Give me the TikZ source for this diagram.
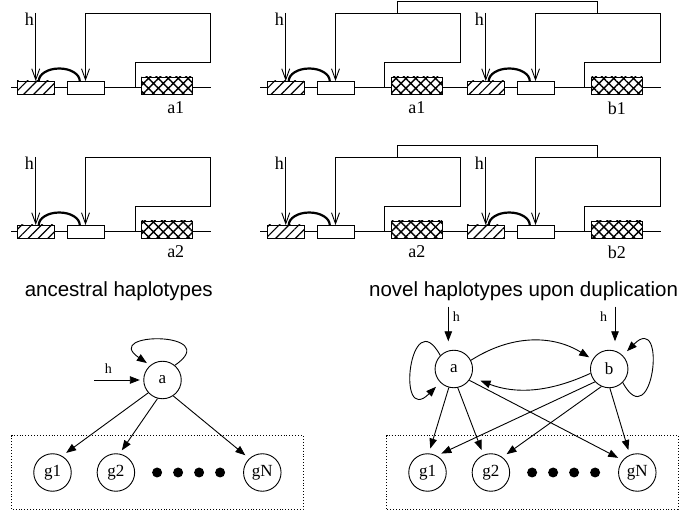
\documentclass[tikz,border=0pt]{standalone}
\usepackage{fontspec}
\setmainfont{Liberation Serif}
\setsansfont{Liberation Sans}
\usetikzlibrary{positioning,arrows.meta,patterns.meta,backgrounds}
\tikzset{>={Triangle[length=10pt,width=7.5pt]}}

\begin{document}
\begin{tikzpicture}[
x=1pt, y=1pt, line width=0.9pt,
barb/.style = {-{Straight Barb[length=11pt,width=8pt]}},
hatbox/.style = {draw, minimum width=37.5pt, minimum height=13pt,
                 inner sep=0pt, outer sep=0pt,
                 preaction={fill=white},
                 pattern={Lines[angle=45,distance=7pt,line width=1.2pt]}},
whtbox/.style = {draw, fill=white, minimum width=37pt, minimum height=13pt,
                 inner sep=0pt, outer sep=0pt},
crsbox/.style = {draw, minimum width=50.5pt, minimum height=17pt,
                 inner sep=0pt, outer sep=0pt,
                 preaction={fill=white},
                 pattern={Hatch[angle=45,distance=7pt,line width=1.4pt]}},
arcline/.style = {line width=2.2pt},
lbl/.style = {inner sep=0pt, font=\fontsize{18}{20}\selectfont},
hlbl/.style = {inner sep=0pt, font=\fontsize{14}{16}\selectfont},
heading/.style = {inner sep=0pt, font=\sffamily\fontsize{20.5}{24}\selectfont},
state/.style = {circle, draw, minimum size=37.5pt, inner sep=0pt,
                font=\fontsize{17}{19}\selectfont},
dot/.style = {circle, fill, minimum size=#1,
              inner sep=0pt, outer sep=0pt},
dot/.default = 10pt,
node distance = 17pt,
]
\useasboundingbox (0,0) rectangle (680,514);
        % ancestral, first row
        \node (hat11) [hatbox, anchor=west] at (17,426.5) {};
        \node (wht11) [whtbox, right=12.5pt of hat11] {};
        \node (crs11) [crsbox, right=37.5pt of wht11.south east,
                       anchor=south west] {};
        \node (lab11) [lbl, below=7.5pt of crs11, xshift=9pt] {a1};
        \coordinate (hin11) at ([yshift=68pt]hat11.north);
        \node [lbl, anchor=north east] at ([xshift=-1.5pt]hin11) {h};
        \draw[barb] (hin11) -- (hat11.north);
        \draw[arcline] ([xshift=3pt]hat11.north)
              arc[start angle=180, end angle=0, x radius=20.5pt, y radius=12.5pt];
        \draw[barb] (crs11.west |- hat11.center) ++(-6.5,0) -- ++(0,25.5)
              -| ([xshift=18.5pt,yshift=81pt]crs11.south east) -| (wht11.north);
        % ancestral, second row
        \node (hat12) [hatbox, anchor=west] at (17,282.5) {};
        \node (wht12) [whtbox, right=12.5pt of hat12] {};
        \node (crs12) [crsbox, right=37.5pt of wht12.south east,
                       anchor=south west] {};
        \node (lab12) [lbl, below=7.5pt of crs12, xshift=9pt] {a2};
        \coordinate (hin12) at ([yshift=68pt]hat12.north);
        \node [lbl, anchor=north east] at ([xshift=-1.5pt]hin12) {h};
        \draw[barb] (hin12) -- (hat12.north);
        \draw[arcline] ([xshift=3pt]hat12.north)
              arc[start angle=180, end angle=0, x radius=20.5pt, y radius=12.5pt];
        \draw[barb] (crs12.west |- hat12.center) ++(-6.5,0) -- ++(0,25.5)
              -| ([xshift=18.5pt,yshift=81pt]crs12.south east) -| (wht12.north);
        % duplication, first row
        \node (hat21) [hatbox, anchor=west] at (267,426.5) {};
        \node (wht21) [whtbox, right=12.5pt of hat21] {};
        \node (crs21) [crsbox, right=37.5pt of wht21.south east,
                       anchor=south west] {};
        \node (lab21) [lbl, below=7.5pt of crs21] {a1};
        \coordinate (hin21) at ([yshift=68pt]hat21.north);
        \node [lbl, anchor=north east] at ([xshift=-1.5pt]hin21) {h};
        \draw[barb] (hin21) -- (hat21.north);
        \draw[arcline] ([xshift=3pt]hat21.north)
              arc[start angle=180, end angle=0, x radius=20.5pt, y radius=12.5pt];
        \draw[barb] (crs21.west |- hat21.center) ++(-7,0) -- ++(0,25.5)
              -| ([xshift=18.5pt,yshift=81pt]crs21.south east) -| (wht21.north);
        \node (hat31) [hatbox, anchor=west] at (467,426.5) {};
        \node (wht31) [whtbox, right=12.5pt of hat31] {};
        \node (crs31) [crsbox, right=37.5pt of wht31.south east,
                       anchor=south west] {};
        \node (lab31) [lbl, below=7.5pt of crs31] {b1};
        \coordinate (hin31) at ([yshift=68pt]hat31.north);
        \node [lbl, anchor=north east] at ([xshift=-1.5pt]hin31) {h};
        \draw[barb] (hin31) -- (hat31.north);
        \draw[arcline] ([xshift=3pt]hat31.north)
              arc[start angle=180, end angle=0, x radius=20.5pt, y radius=12.5pt];
        \draw[barb] (crs31.west |- hat31.center) ++(-7,0) -- ++(0,25.5)
              -| ([xshift=18.5pt,yshift=81pt]crs31.south east) -| (wht31.north);
        \draw ([xshift=6pt,yshift=81pt]crs21.south west) -- ++(0,12)
              -| ([xshift=6pt,yshift=81pt]crs31.south west);
        % duplication, second row
        \node (hat22) [hatbox, anchor=west] at (267,282.5) {};
        \node (wht22) [whtbox, right=12.5pt of hat22] {};
        \node (crs22) [crsbox, right=37.5pt of wht22.south east,
                       anchor=south west] {};
        \node (lab22) [lbl, below=7.5pt of crs22] {a2};
        \coordinate (hin22) at ([yshift=68pt]hat22.north);
        \node [lbl, anchor=north east] at ([xshift=-1.5pt]hin22) {h};
        \draw[barb] (hin22) -- (hat22.north);
        \draw[arcline] ([xshift=3pt]hat22.north)
              arc[start angle=180, end angle=0, x radius=20.5pt, y radius=12.5pt];
        \draw[barb] (crs22.west |- hat22.center) ++(-7,0) -- ++(0,25.5)
              -| ([xshift=18.5pt,yshift=81pt]crs22.south east) -| (wht22.north);
        \node (hat32) [hatbox, anchor=west] at (467,282.5) {};
        \node (wht32) [whtbox, right=12.5pt of hat32] {};
        \node (crs32) [crsbox, right=37.5pt of wht32.south east,
                       anchor=south west] {};
        \node (lab32) [lbl, below=7.5pt of crs32] {b2};
        \coordinate (hin32) at ([yshift=68pt]hat32.north);
        \node [lbl, anchor=north east] at ([xshift=-1.5pt]hin32) {h};
        \draw[barb] (hin32) -- (hat32.north);
        \draw[arcline] ([xshift=3pt]hat32.north)
              arc[start angle=180, end angle=0, x radius=20.5pt, y radius=12.5pt];
        \draw[barb] (crs32.west |- hat32.center) ++(-7,0) -- ++(0,25.5)
              -| ([xshift=18.5pt,yshift=81pt]crs32.south east) -| (wht32.north);
        \draw ([xshift=6pt,yshift=81pt]crs22.south west) -- ++(0,12)
              -| ([xshift=6pt,yshift=81pt]crs32.south west);
        % the strands, behind the boxes
        \begin{scope}[on background layer]
        \draw (hat11.west) ++(-6,0) -- (crs11.east |- hat11.center) -- ++(18.5,0);
        \draw (hat12.west) ++(-6,0) -- (crs12.east |- hat12.center) -- ++(18.5,0);
        \draw (hat21.west) ++(-7,0) -- (crs31.east |- hat21.center) -- ++(18.5,0);
        \draw (hat22.west) ++(-7,0) -- (crs32.east |- hat22.center) -- ++(18.5,0);
        \end{scope}
        % headings
        \node (head1) [heading, anchor=base west] at (24.3,217.3) {ancestral haplotypes};
        \node (head2) [heading, anchor=base east] at (678.5,217.3)
                      {novel haplotypes upon duplication};
        % ancestral graph
        \node (anca)  [state] at (162.5,134) {a};
        \node (ancg1) [state] at (52.5,41.5) {g1};
        \node (ancg2) [state, right=25pt of ancg1] {g2};
        \node (ancd1) [dot, right=of ancg2] {};
        \node (ancd2) [dot, right=11pt of ancd1] {};
        \node (ancd3) [dot, right=11pt of ancd2] {};
        \node (ancd4) [dot, right=11pt of ancd3] {};
        \node (ancgN) [state, right=18pt of ancd4] {gN};
        \draw[dotted] (11.7,5) rectangle (303.3,78.3);
        \coordinate (anch) at (94.3,134);
        \node [hlbl, anchor=base west] at ([xshift=10pt,yshift=6.7pt]anch) {h};
        \draw[->, shorten >=3.5pt] (anch) -- (anca);
        \draw[->, shorten >=4pt] (anca.50) .. controls +(50,34) and +(-50,34) .. (anca.130);
        \draw[->, shorten >=5pt] (anca.222) -- (ancg1.60);
        \draw[->, shorten >=4pt] (anca.255) -- (ancg2.79);
        \draw[->, shorten >=5pt] (anca.304) -- (ancgN.133);
        % duplicated graph
        \node (nova)  [state] at (453.8,145) {a};
        \node (novb)  [state] at (609.2,145) {b};
        \node (novg1) [state] at (427.5,41.5) {g1};
        \node (novg2) [state, right=25pt of novg1] {g2};
        \node (novd1) [dot, right=of novg2] {};
        \node (novd2) [dot, right=11pt of novd1] {};
        \node (novd3) [dot, right=11pt of novd2] {};
        \node (novd4) [dot, right=11pt of novd3] {};
        \node (novgN) [state, right=18pt of novd4] {gN};
        \draw[dotted] (386.7,5) rectangle (678,78.3);
        \coordinate (novha) at (448.3,207.3);
        \coordinate (novhb) at (615,207.3);
        \node [hlbl, anchor=base west] at ([xshift=4pt,yshift=-15pt]novha) {h};
        \node [hlbl, anchor=base east] at ([xshift=-7.5pt,yshift=-15pt]novhb) {h};
        \draw[->, shorten >=8.5pt] (novha) -- (novha |- nova.north);
        \draw[->, shorten >=8.5pt] (novhb) -- (novhb |- novb.north);
        \draw[->, shorten >=6pt] (nova.135) .. controls +(-30,55) and +(-45,-45) .. (nova.225);
        \draw[->, shorten >=6pt] (novb.-45) .. controls +(30,-55) and +(45,45) .. (novb.45);
        \draw[->, shorten >=4pt] (nova.27) to[bend left=32] (novb.150);
        \draw[->, shorten >=10pt] (novb.193) to[bend left=23] (nova.335);
        \draw[->, shorten >=5pt] (nova.255) -- (novg1.86);
        \draw[->, shorten >=5pt] (nova.282) -- (novg2.113);
        \draw[->, shorten >=5pt] (nova.324) -- (novgN.140);
        \draw[->, shorten >=5pt] (novb.222) -- (novg1.61);
        \draw[->, shorten >=5pt] (novb.246) -- (novg2.53);
        \draw[->, shorten >=5pt] (novb.272) -- (novgN.113);
\end{tikzpicture}
\end{document}
